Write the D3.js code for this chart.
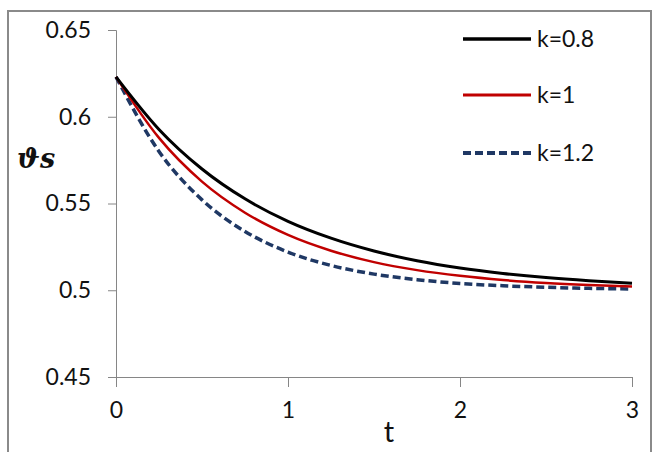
<!DOCTYPE html>
<html>
<head>
<meta charset="utf-8">
<script src="https://cdn.jsdelivr.net/npm/d3@7"></script>
<style>
  body { margin: 0; background: #fff; }
  svg { display: block; }
</style>
</head>
<body>
<div id="chart"></div>
<script>
// valeurs
var tValues = [0, 0.25, 0.5, 0.75, 1, 1.25, 1.5, 1.75, 2, 2.25, 2.5, 2.75, 3];
var k08 = [0.623, 0.5927, 0.5699, 0.5527, 0.5397, 0.5300, 0.5226, 0.5170, 0.5128, 0.5097, 0.5073, 0.5055, 0.5041];
var k1 = [0.623, 0.5878, 0.5626, 0.5447, 0.5319, 0.5228, 0.5162, 0.5116, 0.5083, 0.5059, 0.5042, 0.5030, 0.5021];
var k12 = [0.623, 0.5800, 0.5521, 0.5339, 0.5220, 0.5143, 0.5093, 0.5061, 0.5039, 0.5026, 0.5017, 0.5011, 0.5007];
var xTicks = [0, 1, 2, 3];
var yTicks = [0.45, 0.5, 0.55, 0.6, 0.65];
var seriesNames = ["k=0.8", "k=1", "k=1.2"];

var W = 653, H = 452;
var font = "Lato, 'Open Sans', sans-serif";

var svg = d3.select("#chart").append("svg")
  .attr("width", W)
  .attr("height", H);

// cadre
svg.append("rect")
  .attr("x", 8).attr("y", 11)
  .attr("width", 643).attr("height", 460)
  .attr("fill", "#fff")
  .attr("stroke", "#8a8a8a")
  .attr("stroke-width", 2);

var x = d3.scaleLinear().domain([0, 3]).range([116, 632]);
var y = d3.scaleLinear().domain([0.45, 0.65]).range([377, 30]);

var axisColor = "#868686";

// axe Y
var gy = svg.append("g")
  .attr("transform", "translate(" + x(0) + ",0)")
  .call(d3.axisLeft(y).tickValues(yTicks).tickSize(8).tickPadding(17)
    .tickFormat(function(d) { return d3.format("")(+d.toFixed(2)); }));
gy.select(".domain").attr("stroke", axisColor);
gy.selectAll(".tick line").attr("stroke", axisColor);
gy.selectAll(".tick text")
  .attr("fill", "#111")
  .style("font-family", font)
  .style("font-size", "23px");

// axe X
var gx = svg.append("g")
  .attr("transform", "translate(0," + y(0.45) + ")")
  .call(d3.axisBottom(x).tickValues(xTicks).tickSize(10).tickPadding(15)
    .tickFormat(d3.format("d")));
gx.select(".domain").attr("stroke", axisColor);
gx.selectAll(".tick line").attr("stroke", axisColor);
gx.selectAll(".tick text")
  .attr("fill", "#111")
  .style("font-family", font)
  .style("font-size", "23px");

// courbes
var series = [
  { name: seriesNames[0], values: k08, color: "#000000", width: 3, dash: null },
  { name: seriesNames[1], values: k1, color: "#c00000", width: 2.5, dash: null },
  { name: seriesNames[2], values: k12, color: "#1f3864", width: 3.5, dash: "8,4" }
];

var line = d3.line()
  .x(function(d, i) { return x(tValues[i]); })
  .y(function(d) { return y(d); })
  .curve(d3.curveMonotoneX);

// ordre de dessin : le noir au-dessus comme sur la figure
[2, 1, 0].forEach(function(i) {
  var s = series[i];
  svg.append("path")
    .datum(s.values)
    .attr("fill", "none")
    .attr("stroke", s.color)
    .attr("stroke-width", s.width)
    .attr("stroke-dasharray", s.dash)
    .attr("d", line);
});

// légende
var legendY = [39, 95, 153];
series.forEach(function(s, i) {
  svg.append("line")
    .attr("x1", 463).attr("x2", 531)
    .attr("y1", legendY[i]).attr("y2", legendY[i])
    .attr("stroke", s.color)
    .attr("stroke-width", s.width + 0.5)
    .attr("stroke-dasharray", s.dash);
  svg.append("text")
    .attr("x", 537).attr("y", legendY[i])
    .attr("dy", "0.36em")
    .attr("fill", "#111")
    .style("font-family", font)
    .style("font-size", "23px")
    .text(s.name);
});

// titres des axes
svg.append("text")
  .attr("x", 17).attr("y", 168)
  .attr("fill", "#111")
  .style("font-family", "'DejaVu Serif', 'Liberation Serif', serif")
  .style("font-style", "italic")
  .style("font-weight", "bold")
  .style("font-size", "27px")
  .text("ϑs");

svg.append("text")
  .attr("x", 389).attr("y", 442)
  .attr("text-anchor", "middle")
  .attr("fill", "#111")
  .style("font-family", font)
  .style("font-size", "29px")
  .text("t");
</script>
</body>
</html>
